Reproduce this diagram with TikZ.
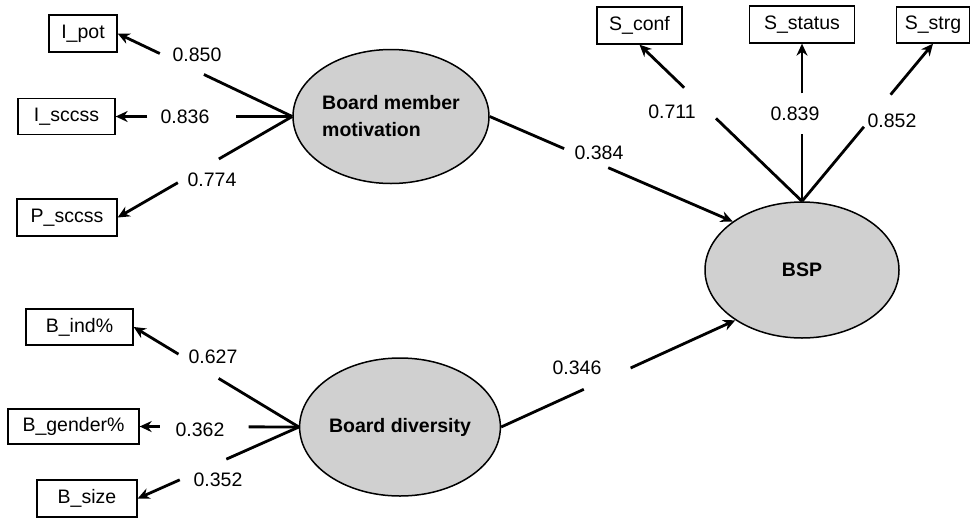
\documentclass[tikz,border=0pt]{standalone}
\usepackage{fontspec}
\setmainfont{Liberation Sans}
\usetikzlibrary{arrows.meta,shapes.geometric}
\definecolor{latentgray}{RGB}{208,208,208}
\tikzset{
  indicator/.style={draw, line width=1.3pt, minimum height=37pt, inner sep=0pt,
    font=\fontsize{19.5}{23}\selectfont},
  latent/.style={ellipse, draw, line width=1.5pt, fill=latentgray, inner sep=0pt,
    font=\bfseries\fontsize{19.5}{27}\selectfont, align=left},
  load/.style={line width=2.8pt},
  loadarrow/.style={line width=2.8pt, -{Stealth[length=12pt,width=11pt]}},
  coef/.style={font=\fontsize{19.5}{23}\selectfont, inner sep=0pt},
}
\begin{document}
\begin{tikzpicture}[x=1pt, y=-1pt]
\useasboundingbox (0,0) rectangle (971,517);

% latent constructs
\node[latent, minimum width=196pt, minimum height=134pt] (mot) at (391,116.5) {Board member\\motivation};
\node[latent, minimum width=196pt, minimum height=138pt] (div) at (400,427) {Board diversity};
\node[latent, minimum width=194pt, minimum height=136pt] (bsp) at (802,270) {BSP};

% indicators of board member motivation
\node[indicator, minimum width=68pt] (ipot) at (83,33.5) {I\_pot};
\node[indicator, minimum width=97pt, minimum height=36pt] (isccss) at (66.5,116.5) {I\_sccss};
\node[indicator, minimum width=100pt] (psccss) at (67,217.5) {P\_sccss};

% indicators of board diversity
\node[indicator, minimum width=107pt, minimum height=36pt] (bind) at (79.5,327) {B\_ind\%};
\node[indicator, minimum width=131pt, minimum height=35pt] (bgender) at (73.5,426.5) {B\_gender\%};
\node[indicator, minimum width=100pt] (bsize) at (87,498.5) {B\_size};

% indicators of BSP
\node[indicator, minimum width=85pt] (sconf) at (639.5,25.5) {S\_conf};
\node[indicator, minimum width=105pt] (sstatus) at (802,24.5) {S\_status};
\node[indicator, minimum width=73pt, minimum height=36pt] (sstrg) at (933,25) {S\_strg};

% loadings: each line is broken where its coefficient sits
\draw[load, shorten >=95.5pt] (mot.west) -- (ipot.east);
\draw[loadarrow, shorten <=146.7pt] (mot.west) -- (ipot.east);
\draw[load, shorten >=120pt] (mot.west) -- (isccss.east);
\draw[loadarrow, shorten <=145pt] (mot.west) -- (isccss.east);
\draw[load, shorten >=116.9pt] (mot.west) -- (psccss.east);
\draw[loadarrow, shorten <=132.2pt] (mot.west) -- (psccss.east);

\draw[load, shorten >=99.3pt] (div.west) -- (bind.east);
\draw[loadarrow, shorten <=140.7pt] (div.west) -- (bind.east);
\draw[load, shorten >=109pt] (div.west) -- (bgender.east);
\draw[loadarrow, shorten <=139pt] (div.west) -- (bgender.east);
\draw[load, shorten >=97pt] (div.west) -- (bsize.east);
\draw[loadarrow, shorten <=130.3pt] (div.west) -- (bsize.east);

\draw[load, shorten >=106.2pt] (bsp.north) -- (sconf.south);
\draw[loadarrow, shorten <=163.6pt] (bsp.north) -- (sconf.south);
\draw[load, shorten >=90pt] (bsp.north) -- (sstatus.south);
\draw[loadarrow, shorten <=108pt] (bsp.north) -- (sstatus.south);
\draw[load, shorten >=108.1pt] (bsp.north) -- (sstrg.south);
\draw[loadarrow, shorten <=138.6pt] (bsp.north) -- (sstrg.south);

% structural paths
\draw[load, shorten >=183.7pt] (mot.east) -- (bsp.145);
\draw[loadarrow, shorten <=129.1pt] (mot.east) -- (bsp.145);
\draw[load, shorten >=166.5pt] (div.east) -- (bsp.217);
\draw[loadarrow, shorten <=142.3pt] (div.east) -- (bsp.217);

% coefficients
\node[coef] (l1) at (197,55) {0.850};
\node[coef] (l2) at (185,117) {0.836};
\node[coef] (l3) at (212,180) {0.774};
\node[coef] (l4) at (213,357) {0.627};
\node[coef] (l5) at (200,430) {0.362};
\node[coef] (l6) at (218,480) {0.352};
\node[coef] (l7) at (672,112) {0.711};
\node[coef] (l8) at (795,114) {0.839};
\node[coef] (l9) at (892,121) {0.852};
\node[coef] (p1) at (599,153) {0.384};
\node[coef] (p2) at (577,368) {0.346};
\end{tikzpicture}
\end{document}
